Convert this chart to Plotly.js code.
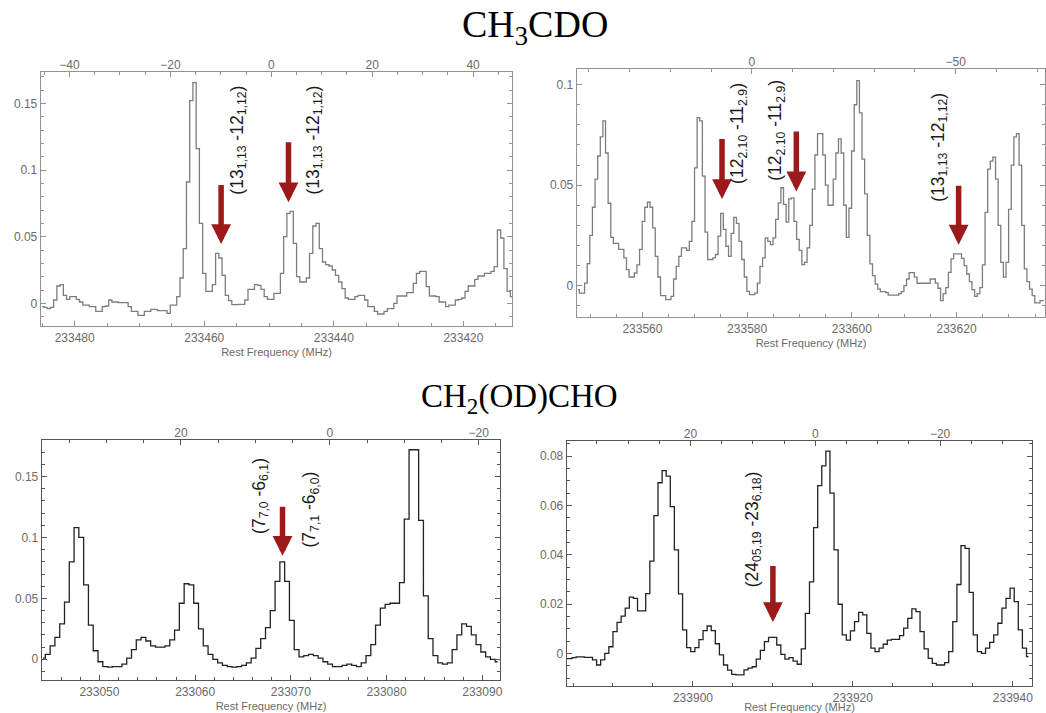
<!DOCTYPE html>
<html><head><meta charset="utf-8">
<script src="https://cdn.plot.ly/plotly-3.0.1.min.js"></script>
<style>html,body{margin:0;padding:0;background:#fff;} #chart{width:1046px;height:713px;}</style>
</head><body><div id="chart"></div>
<script>
const C_KMS = 299792.458;

// ---------- Panel 1 : CH3CDO (left) ----------
const p1Freq0 = 233485.0, p1Step = -0.5, p1RestFreq = 233449.65;
const p1Flux = [-0.0025,-0.003,-0.004,-0.003,0.0025,0.013,0.014,0.006,0.003,0.005,0.005,0.003,0.001,-0.0013,-0.0013,-0.0025,-0.0025,-0.006,-0.006,-0.0025,
-0.002,0.0025,0.001,0.001,0.0005,0.0005,0.0005,-0.0025,-0.006,-0.006,-0.009,-0.009,-0.006,-0.006,-0.0045,-0.0045,-0.0055,-0.0055,-0.0055,-0.0075,
-0.0013,-0.0013,0.005,0.019,0.041,0.091,0.152,0.1655,0.116,0.06,0.0225,0.009,0.009,0.014,0.0375,0.034,0.021,0.006,0.002,-0.001,
-0.001,-0.0008,-0.0008,0.0025,0.0105,0.0105,0.014,0.0135,0.0105,0.005,0.003,0.003,0.0075,0.0075,0.0225,0.05,0.0675,0.069,0.045,0.02,
0.016,0.016,0.019,0.0375,0.058,0.06,0.041,0.031,0.029,0.028,0.025,0.021,0.016,0.011,0.004,0.003,0.003,0.005,0.006,0.006,
0.0025,-0.0025,-0.0025,-0.006,-0.008,-0.008,-0.006,-0.004,-0.004,0,0.0055,0.0055,0.0055,0.008,0.008,0.015,0.0225,0.024,0.024,0.0125,
0.0055,0.0055,0.005,0.001,0.001,-0.0025,-0.0013,-0.0013,0.0025,0.003,0.004,0.009,0.013,0.013,0.018,0.0205,0.0205,0.0225,0.0225,0.024,
0.0275,0.055,0.049,0.026,0.009,0.005];
const p1ArrowFreq = [233457.4, 233447.0];
const p1ArrowTip = [0.0445, 0.0758];
const p1LabelText = ['(13<sub>1,13</sub> -12<sub>1,12</sub>)', '(13<sub>1,13</sub> -12<sub>1,12</sub>)'];
const p1LabelFreq = [233454.85, 233443.12];
const p1LabelY = [0.1225, 0.1225];

// ---------- Panel 2 : CH3CDO (right) ----------
const p2Freq0 = 233547.7, p2Step = 0.5, p2RestFreq = 233580.9;
const p2Flux = [-0.002,-0.0037,-0.0037,0.0013,0.011,0.025,0.039,0.053,0.0645,0.074,0.082,0.066,0.041,0.024,0.021,0.021,0.018,0.018,0.0138,0.008,
0.0043,0.0043,0.0063,0.0103,0.018,0.032,0.039,0.0415,0.039,0.0287,0.0146,0.0043,-0.005,-0.005,-0.007,-0.007,-0.0053,0.0033,0.0096,0.0146,
0.0188,0.0188,0.0176,0.022,0.032,0.0586,0.0836,0.082,0.0545,0.0266,0.013,0.013,0.0138,0.0155,0.0246,0.036,0.028,0.0196,0.0146,0.026,
0.034,0.031,0.022,0.013,0.0043,-0.0028,-0.0045,-0.0045,-0.0037,0.0013,0.0096,0.0138,0.0238,0.022,0.0204,0.0238,0.033,0.0412,0.0487,0.0404,
0.0316,0.0432,0.0437,0.032,0.023,0.0176,0.0105,0.0116,0.0188,0.030,0.048,0.065,0.0756,0.0756,0.065,0.05,0.04,0.04,0.053,0.066,
0.073,0.066,0.04,0.024,0.0385,0.067,0.09,0.102,0.086,0.063,0.0457,0.025,0.0108,0.005,0.0008,-0.0017,-0.003,-0.003,-0.0035,-0.0047,
-0.0047,-0.0047,-0.0047,-0.004,-0.003,0.000,0.0033,0.0065,0.0065,0.0042,0.0012,0.0012,0.0012,0.0012,0.0012,0.0033,0.0033,0.0013,-0.0013,-0.0075,
-0.004,-0.001,0.0066,0.0133,0.0158,0.0158,0.0158,0.0136,0.010,0.0058,0.002,-0.002,-0.0053,-0.004,-0.001,0.0103,0.0365,0.058,0.062,0.064,
0.053,0.03,0.0116,0.0042,0.0116,0.038,0.06,0.074,0.0756,0.06,0.03,0.0083,0.002,-0.0017,-0.005,-0.0086,-0.0086,-0.0075,-0.0075];
const p2ArrowFreq = [233575.2, 233589.4, 233620.4];
const p2ArrowTip = [0.0431, 0.0469, 0.0204];
const p2LabelText = ['(12<sub>2.10</sub> -11<sub>2.9</sub>)', '(12<sub>2.10</sub> -11<sub>2.9</sub>)', '(13<sub>1,13</sub> -12<sub>1,12</sub>)'];
const p2LabelFreq = [233578.48, 233585.71, 233616.7];
const p2LabelY = [0.0756, 0.0771, 0.0687];

// ---------- Panel 3 : CH2(OD)CHO (left) ----------
const p3Freq0 = 233044.1, p3Step = 0.5, p3RestFreq = 233074.07;
const p3Flux = [0.001,0.004,0.011,0.018,0.029,0.047,0.080,0.108,0.100,0.061,0.028,0.007,-0.002,-0.006,-0.0065,-0.006,-0.006,-0.004,0.001,0.008,
0.016,0.018,0.015,0.011,0.010,0.010,0.011,0.016,0.024,0.046,0.062,0.061,0.046,0.025,0.011,0.004,0.000,-0.003,-0.005,-0.006,
-0.0065,-0.006,-0.005,-0.003,0.001,0.009,0.017,0.026,0.040,0.064,0.080,0.064,0.032,0.008,0.002,0.003,0.004,0.003,0.001,-0.002,
-0.004,-0.006,-0.006,-0.005,-0.004,-0.005,-0.006,-0.003,0.003,0.012,0.028,0.042,0.045,0.046,0.046,0.063,0.115,0.172,0.172,0.114,
0.052,0.017,0.003,-0.003,-0.004,-0.003,0.008,0.020,0.029,0.027,0.020,0.012,0.006,0.002,0.000,-0.002];
const p3ArrowFreq = [233069.13];
const p3ArrowTip = [0.0849];
const p3LabelText = ['(7<sub>7,0</sub> -6<sub>6,1</sub>)', '(7<sub>7,1</sub> -6<sub>6,0</sub>)'];
const p3LabelFreq = [233066.8, 233072.03];
const p3LabelY = [0.1343, 0.1232];

// ---------- Panel 4 : CH2(OD)CHO (right) ----------
const p4Freq0 = 233884.11, p4Step = 0.512, p4RestFreq = 233915.3;
const p4Flux = [-0.002,-0.002,-0.0016,-0.0013,-0.0013,-0.0015,-0.0015,-0.0025,-0.0046,-0.0025,0.0001,0.0028,0.0089,0.0127,0.0152,0.0184,0.0229,0.0224,0.0173,0.0173,
0.0243,0.0375,0.0559,0.0692,0.0741,0.0719,0.0595,0.042,0.0242,0.0096,0.0024,0.0008,0.0024,0.0057,0.0093,0.0112,0.0093,0.004,-0.0005,-0.0046,
-0.0067,-0.0084,-0.0086,-0.0086,-0.0066,-0.0059,-0.0053,-0.0022,0.0013,0.0049,0.0066,0.0066,0.0035,-0.0003,-0.0022,-0.0016,-0.003,-0.0043,0.0019,0.0163,
0.0291,0.051,0.068,0.076,0.082,0.065,0.042,0.020,0.0076,0.0055,0.0092,0.013,0.0167,0.0157,0.0082,0.0022,0.0008,0.0022,0.0038,0.0055,
0.0058,0.0058,0.0073,0.0103,0.0143,0.0181,0.017,0.0089,0.0019,-0.0019,-0.0039,-0.0046,-0.0046,-0.0036,0.0008,0.013,0.028,0.0437,0.0426,0.0248,
0.0076,0.0008,0.0001,0.0022,0.0046,0.0076,0.0123,0.0184,0.0224,0.0265,0.0211,0.0096,0.0022,-0.0012];
const p4ArrowFreq = [233910.0];
const p4ArrowTip = [0.0128];
const p4LabelText = ['(24<sub>05,19</sub> -23<sub>6,18</sub>)'];
const p4LabelFreq = [233907.5];
const p4LabelY = [0.0503];

const titleTop = 'CH<sub>3</sub>CDO';
const titleBottom = 'CH<sub>2</sub>(OD)CHO';
const xTitle = 'Rest Frequency (MHz)';

// ---------- layout helpers ----------
const W = 1046, H = 713;
const px = (a, b) => [a / W, b / W];
const py = (top, bottom) => [1 - bottom / H, 1 - top / H];
const ARROW = '#9c1a1a';
const TICKFONT = {family: 'Liberation Sans, Arial, sans-serif', size: 12, color: '#6a6a6a'};

const panels = [
  {n: '', t: '5', freq0: p1Freq0, step: p1Step, flux: p1Flux, f0: p1RestFreq,
   dom: [px(41, 512), py(72, 326)], xr: [233485.2, 233412.5], yr: [-0.017, 0.1735],
   xd: 20, xm: 5, yd: 0.05, ym: 0.01, vd: 20, vm: 5, frame: '#929292', line: '#7d7d7d',
   af: p1ArrowFreq, at: p1ArrowTip, alen: [61, 62], lt: p1LabelText, lf: p1LabelFreq, ly: p1LabelY},
  {n: '2', t: '6', freq0: p2Freq0, step: p2Step, flux: p2Flux, f0: p2RestFreq,
   dom: [px(577, 1045), py(69, 317)], xr: [233547.5, 233636.9], yr: [-0.0156, 0.1078],
   xd: 20, xm: 5, yd: 0.05, ym: 0.01, vd: 50, vm: 10, frame: '#929292', line: '#7d7d7d',
   af: p2ArrowFreq, at: p2ArrowTip, alen: [62, 62, 61], lt: p2LabelText, lf: p2LabelFreq, ly: p2LabelY},
  {n: '3', t: '7', freq0: p3Freq0, step: p3Step, flux: p3Flux, f0: p3RestFreq,
   dom: [px(42, 500), py(440, 680)], xr: [233044.0, 233091.85], yr: [-0.017, 0.18],
   xd: 10, xm: 2, yd: 0.05, ym: 0.01, vd: 20, vm: 5, frame: '#555555', line: '#222222',
   af: p3ArrowFreq, at: p3ArrowTip, alen: [51], lt: p3LabelText, lf: p3LabelFreq, ly: p3LabelY},
  {n: '4', t: '8', freq0: p4Freq0, step: p4Step, flux: p4Flux, f0: p4RestFreq,
   dom: [px(567, 1032), py(441, 686)], xr: [233884.25, 233942.4], yr: [-0.0131, 0.0861],
   xd: 20, xm: 5, yd: 0.02, ym: 0.005, vd: 20, vm: 5, frame: '#555555', line: '#222222',
   af: p4ArrowFreq, at: p4ArrowTip, alen: [58], lt: p4LabelText, lf: p4LabelFreq, ly: p4LabelY}
];

const data = [];
const layout = {
  width: W, height: H, margin: {l: 0, r: 0, t: 0, b: 0},
  paper_bgcolor: '#fff', plot_bgcolor: '#fff', showlegend: false,
  annotations: [
    {xref: 'paper', yref: 'paper', x: 535 / W, y: 1 - 27 / H, xanchor: 'center', yanchor: 'middle',
     text: titleTop, showarrow: false, font: {family: 'Liberation Serif, Times New Roman, serif', size: 38, color: '#000'}},
    {xref: 'paper', yref: 'paper', x: 519 / W, y: 1 - 398 / H, xanchor: 'center', yanchor: 'middle',
     text: titleBottom, showarrow: false, font: {family: 'Liberation Serif, Times New Roman, serif', size: 33, color: '#000'}}
  ]
};

panels.forEach(p => {
  const xa = 'x' + p.n, ya = 'y' + p.n, xt = 'x' + p.t;
  data.push({type: 'scatter', mode: 'lines', x0: p.freq0, dx: p.step, y: p.flux,
    xaxis: xa, yaxis: ya, line: {shape: 'hvh', color: p.line, width: 1.3}, hoverinfo: 'skip'});
  // same spectrum on the velocity axis (invisible) so that the top axis is drawn
  data.push({type: 'scatter', mode: 'lines', x0: C_KMS * (p.f0 - p.freq0) / p.f0, dx: -C_KMS * p.step / p.f0,
    y: p.flux, xaxis: xt, yaxis: ya, line: {color: 'rgba(0,0,0,0)', width: 0}, hoverinfo: 'skip'});

  layout['xaxis' + p.n] = {
    domain: p.dom[0], anchor: ya, range: p.xr, dtick: p.xd, tick0: 0, tickformat: 'd',
    ticks: 'inside', ticklen: 5, tickwidth: 1, tickcolor: p.frame,
    showline: true, linecolor: p.frame, linewidth: 1.3, mirror: true,
    showgrid: false, zeroline: false, tickfont: TICKFONT,
    minor: {dtick: p.xm, tick0: 0, ticks: 'inside', ticklen: 3, tickcolor: p.frame, showgrid: false},
    title: {text: xTitle, font: {family: 'Liberation Sans, Arial, sans-serif', size: 11, color: '#6a6a6a'}, standoff: 4}
  };
  layout['xaxis' + p.t] = {
    overlaying: xa, anchor: ya, side: 'top',
    range: p.xr.map(f => C_KMS * (p.f0 - f) / p.f0), dtick: p.vd, tick0: 0,
    ticks: 'inside', ticklen: 5, tickwidth: 1, tickcolor: p.frame, showline: false,
    showgrid: false, zeroline: false, tickfont: TICKFONT,
    minor: {dtick: p.vm, tick0: 0, ticks: 'inside', ticklen: 3, tickcolor: p.frame, showgrid: false}
  };
  layout['yaxis' + p.n] = {
    domain: p.dom[1], anchor: xa, range: p.yr, dtick: p.yd, tick0: 0,
    ticks: 'inside', ticklen: 5, tickwidth: 1, tickcolor: p.frame,
    showline: true, linecolor: p.frame, linewidth: 1.3, mirror: 'ticks',
    showgrid: false, zeroline: false, tickfont: TICKFONT,
    minor: {dtick: p.ym, tick0: 0, ticks: 'inside', ticklen: 3, tickcolor: p.frame, showgrid: false}
  };

  p.af.forEach((f, i) => {
    layout.annotations.push({xref: xa, yref: ya, x: f, y: p.at[i], ax: 0, ay: -p.alen[i],
      showarrow: true, arrowhead: 2, arrowsize: 0.72, arrowwidth: 5.5, arrowcolor: ARROW,
      standoff: 0, font: {size: 1}});
  });
  p.lf.forEach((f, i) => {
    layout.annotations.push({xref: xa, yref: ya, x: f, y: p.ly[i], text: p.lt[i], showarrow: false,
      textangle: -90, xanchor: 'center', yanchor: 'middle',
      font: {family: 'Liberation Sans, Arial, sans-serif', size: 17.5, color: '#1a1a1a'}});
  });
});

Plotly.newPlot('chart', data, layout, {staticPlot: true, displayModeBar: false});
</script></body></html>
